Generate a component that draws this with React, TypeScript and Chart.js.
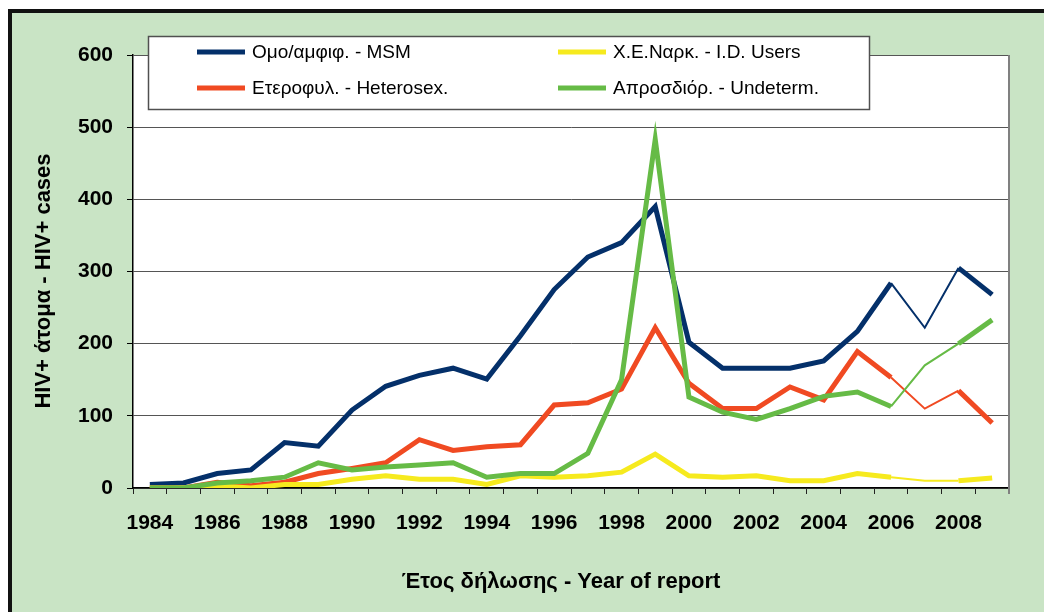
import React, { useEffect, useRef } from 'react';
import { Chart, registerables } from 'chart.js';

Chart.register(...registerables);

const years = ['1984','1985','1986','1987','1988','1989','1990','1991','1992','1993','1994','1995','1996','1997','1998','1999','2000','2001','2002','2003','2004','2005','2006','2007','2008','2009'];
const msm = [5, 7, 20, 25, 63, 58, 108, 141, 156, 166, 151, 211, 275, 320, 340, 390, 202, 166, 166, 166, 176, 217, 284, 222, 305, 268];
const hetero = [0, 0, 8, 3, 8, 20, 27, 35, 67, 52, 57, 60, 115, 118, 137, 222, 145, 110, 110, 140, 122, 189, 153, 110, 135, 90];
const idu = [0, 0, 3, 0, 5, 5, 12, 17, 12, 12, 5, 17, 15, 17, 22, 47, 17, 15, 17, 10, 10, 20, 15, 10, 10, 14];
const undet = [0, 0, 7, 10, 15, 35, 25, 29, 32, 35, 15, 20, 20, 48, 150, 483, 126, 105, 95, 110, 127, 133, 113, 170, 200, 233];
const seriesLabels = ['Ομο/αμφιφ. - MSM', 'Ετεροφυλ. - Heterosex.', 'Χ.Ε.Ναρκ. - I.D. Users', 'Απροσδιόρ. - Undeterm.'];
const seriesColors = ['#04306a', '#f04a22', '#f6ea1e', '#66bb46'];
const xTitle = 'Έτος δήλωσης - Year of report';
const yTitle = 'HIV+ άτομα - HIV+ cases';

const FONT = '"Liberation Sans", Arial, sans-serif';

const framePlugin = {
  id: 'frame',
  beforeDraw(chart: any) {
    const { ctx, chartArea: a, width, height } = chart;
    ctx.save();
    ctx.fillStyle = '#ffffff';
    ctx.fillRect(0, 0, width, height);
    ctx.fillStyle = '#c9e4c5';
    ctx.fillRect(8, 9, width - 8, height - 9);
    ctx.fillStyle = '#111111';
    ctx.fillRect(8, 9, 4, height - 9);
    ctx.fillRect(8, 9, width - 8, 4);
    ctx.fillStyle = '#ffffff';
    ctx.fillRect(a.left, a.top, a.right - a.left, a.bottom - a.top);
    ctx.restore();
  },
  afterDraw(chart: any) {
    const { ctx, chartArea: a } = chart;
    ctx.save();
    // right border of plot area
    ctx.strokeStyle = '#808080';
    ctx.lineWidth = 2;
    ctx.beginPath();
    ctx.moveTo(a.right, a.top);
    ctx.lineTo(a.right, a.bottom + 6);
    ctx.stroke();

    // titles
    ctx.fillStyle = '#000';
    ctx.font = 'bold 22px ' + FONT;
    ctx.textAlign = 'center';
    ctx.textBaseline = 'middle';
    ctx.fillText(xTitle, 561, 582);
    ctx.translate(44, 281);
    ctx.rotate(-Math.PI / 2);
    ctx.fillText(yTitle, 0, 0);
    ctx.restore();

    // legend
    ctx.save();
    ctx.fillStyle = '#ffffff';
    ctx.fillRect(148, 36, 722, 74);
    ctx.strokeStyle = '#505050';
    ctx.lineWidth = 1.5;
    ctx.strokeRect(148.5, 36.5, 721, 73);
    const pos = [[197, 52], [197, 88], [558, 52], [558, 88]];
    ctx.font = '19px ' + FONT;
    ctx.textAlign = 'left';
    ctx.textBaseline = 'middle';
    chart.data.datasets.forEach((ds: any, i: number) => {
      const [x, y] = pos[i];
      ctx.strokeStyle = ds.borderColor;
      ctx.lineWidth = 5;
      ctx.beginPath();
      ctx.moveTo(x, y);
      ctx.lineTo(x + 48, y);
      ctx.stroke();
      ctx.fillStyle = '#000';
      ctx.fillText(ds.label, x + 55, y + 1);
    });
    ctx.restore();
  },
};

export default function App() {
  const ref = useRef<HTMLCanvasElement | null>(null);
  useEffect(() => {
    if (!ref.current) return;
    const series = [msm, hetero, idu, undet];
    const chart = new Chart(ref.current, {
      type: 'line',
      data: {
        labels: years,
        datasets: series.map((d, i) => ({
          label: seriesLabels[i],
          data: d,
          borderColor: seriesColors[i],
          backgroundColor: seriesColors[i],
          borderWidth: 5,
          pointRadius: 0,
          tension: 0,
          fill: false,
          order: 4 - i,
          segment: {
            borderWidth: (c: any) => (c.p0DataIndex === 22 || c.p0DataIndex === 23 ? 2 : 5),
          },
        })),
      },
      options: {
        responsive: false,
        animation: false,
        layout: { padding: { left: 0, top: 55, right: 35, bottom: 0 } },
        plugins: { legend: { display: false }, tooltip: { enabled: false }, title: { display: false } },
        scales: {
          x: {
            type: 'category',
            offset: true,
            grid: { offset: true, drawOnChartArea: false, tickLength: 6, tickColor: '#222', tickWidth: 1 },
            border: { color: '#000', width: 1.5 },
            ticks: {
              autoSkip: false,
              maxRotation: 0,
              minRotation: 0,
              padding: 17,
              color: '#000',
              font: { family: FONT, size: 21, weight: 'bold' },
              callback: (_v: any, i: number) => (i % 2 === 0 ? years[i] : ''),
            },
            afterFit: (s: any) => { s.height = 124; },
          },
          y: {
            min: 0,
            max: 600,
            grid: { color: '#555', lineWidth: 1, tickLength: 6, tickColor: '#000' },
            border: { color: '#000', width: 1.5 },
            ticks: {
              stepSize: 100,
              padding: 14,
              color: '#000',
              font: { family: FONT, size: 21, weight: 'bold' },
            },
            afterFit: (s: any) => { s.width = 133; },
          },
        },
      },
      plugins: [framePlugin],
    } as any);
    return () => chart.destroy();
  }, []);
  return (
    <div style={{ position: 'fixed', left: 0, top: 0, width: 1044, height: 612, background: '#fff' }}>
      <canvas ref={ref} width={1044} height={612} style={{ display: 'block', width: 1044, height: 612 }} />
    </div>
  );
}
